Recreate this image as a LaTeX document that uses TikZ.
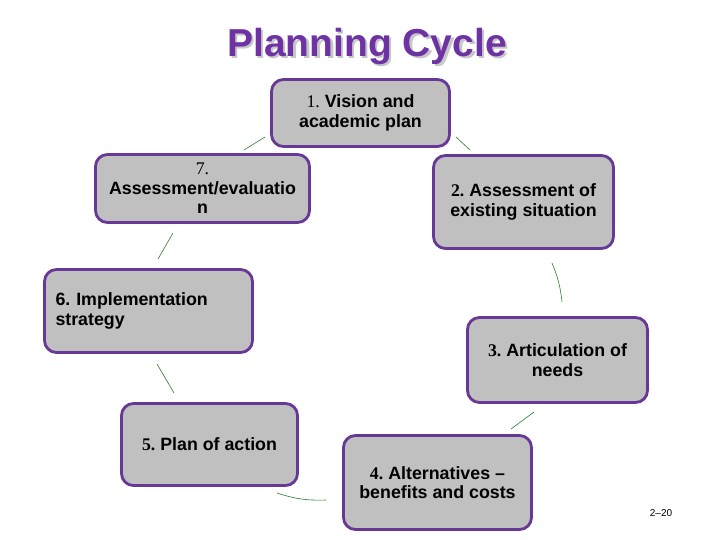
\documentclass[tikz,border=0pt]{standalone}
\usepackage{fontspec}
\setmainfont{Liberation Sans}
\newfontfamily\numfont{Liberation Serif}
\definecolor{boxborder}{RGB}{104,56,150}
\definecolor{boxfill}{RGB}{192,192,192}
\definecolor{titlecol}{RGB}{110,50,165}
\definecolor{conncol}{RGB}{40,125,40}
\newcommand{\nr}[1]{{\numfont\mdseries #1}}
\newcommand{\nb}[1]{{\numfont\bfseries #1}}
\frenchspacing
\begin{document}
\begin{tikzpicture}[x=1pt,y=-1pt,
  box/.style={draw=boxborder, line width=2.8pt, fill=boxfill, rounded corners=12pt,
    inner sep=0pt, align=center, font=\frenchspacing\fontsize{17.8}{19.5}\selectfont\bfseries},
  conn/.style={draw=conncol, line width=0.6pt}]
\useasboundingbox (0,0) rectangle (720,540);
% title
\node[text=black!22, font=\fontsize{39}{44}\selectfont\bfseries] (tshadow) at (369.5,48.5) {Planning Cycle};
\node[text=titlecol, font=\fontsize{39}{44}\selectfont\bfseries] (title) at (367,46.5) {Planning Cycle};
% boxes
\node[box, minimum width=178pt, minimum height=67pt] (n1) at (360.5,113) {\nr{1.} Vision and\\academic plan};
\node[box, minimum width=180pt, minimum height=93pt] (n2) at (523.5,202) {\nb{2.} Assessment of\\existing situation};
\node[box, minimum width=180pt, minimum height=85pt] (n3) at (557.5,360) {\nb{3.} Articulation of\\needs};
\node[box, minimum width=188pt, minimum height=94pt] (n4) at (437.5,482.5) {\nb{4.} Alternatives --\\benefits and costs};
\node[box, minimum width=176pt, minimum height=82pt] (n5) at (209.5,444.5) {\nb{5.} Plan of action};
\node[box, minimum width=208pt, minimum height=83pt, align=left, text width=186pt] (n6) at (148.5,311) {6. Implementation\\strategy};
\node[box, minimum width=214pt, minimum height=68pt] (n7) at (202.5,188.5) {\nr{7.}\\Assessment/evaluatio\\n};
% connector ends
\coordinate (a12) at (456,137); \coordinate (b12) at (470,150);
\coordinate (a23) at (552,263); \coordinate (b23) at (562,302);
\coordinate (a34) at (534,412); \coordinate (b34) at (511,429);
\coordinate (a45) at (326,500); \coordinate (b45) at (277,493);
\coordinate (a56) at (174,393); \coordinate (b56) at (157,364);
\coordinate (a67) at (158,259); \coordinate (b67) at (173,233);
\coordinate (a71) at (244,150); \coordinate (b71) at (265,137);
\draw[conn] (a12) -- (b12);
\draw[conn] (a23) to[bend left=8] (b23);
\draw[conn] (a34) -- (b34);
\draw[conn] (a45) to[bend left=10] (b45);
\draw[conn] (a56) -- (b56);
\draw[conn] (a67) -- (b67);
\draw[conn] (a71) -- (b71);
\node[font=\fontsize{10}{12}\selectfont] (pg) at (661,513) {2--20};
\end{tikzpicture}
\end{document}
